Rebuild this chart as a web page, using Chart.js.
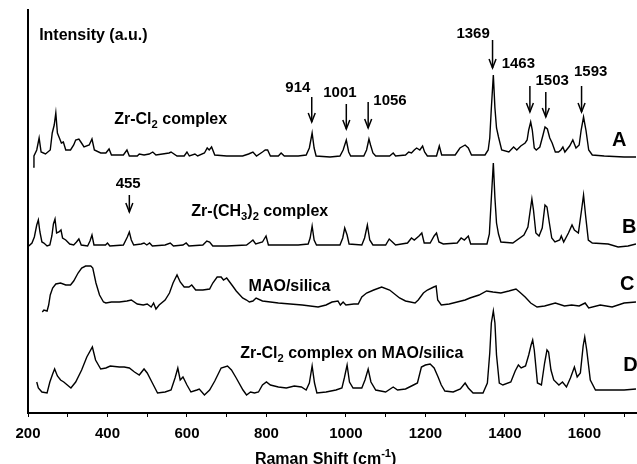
<!DOCTYPE html>
<html>
<head>
<meta charset="utf-8">
<script src="https://cdn.jsdelivr.net/npm/chart.js"></script>
<style>
  html, body { margin: 0; padding: 0; background: #fff; }
  #wrap { width: 637px; height: 464px; }
</style>
</head>
<body>
<div id="wrap"><canvas id="raman" width="637" height="464"></canvas></div>
<script>
// Raman shift (cm-1), intensity (a.u.) - traces kept at the vertical offsets of the figure
const traceA = [[213,246],[215,257],[222,263],[228,275],[233,261],[244,259],[256,263],[261,280],[266,288],[270,300],[274,280],[278,276],[284,270],[289,271],[295,263],[307,263],[315,268],[320,273],[328,274],[333,271],[341,266],[354,268],[361,274],[367,263],[383,260],[396,260],[404,264],[410,258],[440,258],[449,263],[455,257],[475,257],[480,259],[492,258],[505,259],[514,261],[522,258],[555,260],[560,261],[575,257],[593,257],[600,261],[606,257],[620,259],[627,257],[644,260],[651,265],[656,263],[662,266],[670,258],[700,257],[740,257],[755,259],[766,261],[775,257],[790,261],[797,263],[803,263],[810,257],[830,257],[837,260],[845,257],[880,257],[900,258],[908,265],[915,280],[920,265],[925,257],[960,256],[985,257],[993,263],[1001,273],[1007,261],[1012,257],[1045,257],[1052,263],[1058,274],[1062,268],[1068,260],[1075,257],[1110,257],[1119,260],[1125,257],[1150,258],[1158,261],[1165,260],[1172,263],[1178,265],[1186,263],[1193,267],[1198,261],[1205,257],[1228,257],[1235,267],[1241,258],[1275,258],[1287,265],[1300,268],[1308,265],[1316,258],[1350,258],[1358,263],[1362,275],[1366,305],[1371,338],[1375,305],[1379,285],[1384,276],[1392,263],[1410,261],[1422,266],[1430,263],[1440,267],[1451,270],[1456,273],[1460,283],[1465,291],[1469,283],[1474,265],[1479,263],[1488,266],[1496,278],[1501,286],[1507,284],[1513,275],[1519,270],[1527,261],[1535,261],[1541,263],[1546,266],[1551,261],[1563,267],[1571,273],[1579,265],[1587,268],[1592,283],[1598,296],[1604,283],[1611,263],[1620,258],[1650,257],[1700,256],[1730,256]];
const traceB = [[202,167],[210,170],[216,176],[222,188],[226,193],[230,181],[235,171],[240,170],[248,167],[255,168],[260,177],[264,189],[268,194],[272,180],[278,181],[283,183],[287,175],[295,173],[305,169],[315,168],[322,171],[328,174],[334,168],[350,167],[356,172],[361,178],[366,168],[395,168],[400,170],[406,167],[440,168],[450,176],[455,181],[460,173],[466,168],[485,169],[492,170],[499,168],[506,170],[513,167],[545,168],[558,170],[566,167],[590,168],[598,170],[605,167],[640,168],[650,172],[657,171],[665,167],[700,167],[750,168],[760,171],[766,173],[773,169],[790,171],[799,177],[805,168],[830,168],[880,168],[905,169],[910,175],[915,187],[920,173],[926,168],[985,168],[992,175],[997,185],[1003,178],[1008,169],[1040,168],[1047,175],[1054,188],[1060,173],[1068,168],[1100,168],[1109,174],[1117,171],[1125,168],[1155,170],[1165,175],[1172,173],[1184,177],[1191,180],[1197,170],[1212,170],[1222,177],[1228,180],[1234,171],[1245,169],[1280,170],[1290,175],[1298,173],[1308,177],[1314,169],[1355,169],[1361,179],[1366,215],[1371,250],[1375,215],[1379,190],[1384,179],[1390,171],[1420,170],[1448,178],[1458,186],[1464,203],[1468,214],[1472,203],[1478,180],[1486,177],[1494,185],[1501,208],[1506,206],[1512,190],[1518,175],[1526,171],[1538,173],[1542,177],[1548,171],[1560,180],[1569,188],[1575,183],[1585,180],[1593,203],[1598,218],[1603,198],[1610,173],[1620,170],[1660,169],[1685,166],[1710,167],[1730,169]];
const traceC = [[236,101],[240,103],[248,102],[252,108],[256,118],[262,125],[270,129],[282,130],[295,128],[307,128],[315,132],[326,140],[335,145],[345,147],[358,147],[363,145],[371,130],[380,118],[390,111],[396,110],[410,111],[430,111],[449,112],[460,113],[475,109],[490,108],[500,109],[510,106],[516,110],[522,104],[530,108],[545,113],[556,120],[565,130],[575,138],[583,131],[593,126],[605,126],[612,128],[622,123],[640,123],[657,124],[665,130],[676,136],[686,136],[692,133],[700,135],[715,127],[724,122],[740,115],[750,113],[757,111],[766,112],[774,115],[790,112],[810,111],[830,110],[860,109],[890,108],[930,106],[950,108],[965,111],[980,112],[986,108],[993,111],[1000,108],[1020,109],[1031,109],[1040,116],[1052,120],[1070,123],[1090,126],[1110,123],[1135,115],[1150,112],[1174,110],[1182,113],[1195,120],[1205,123],[1221,126],[1227,127],[1231,113],[1240,108],[1260,109],[1280,111],[1300,113],[1312,115],[1335,118],[1354,122],[1370,121],[1390,120],[1410,122],[1428,124],[1437,121],[1451,116],[1465,110],[1481,106],[1500,107],[1527,110],[1550,107],[1568,108],[1587,107],[1602,110],[1611,105],[1640,108],[1670,106],[1700,110],[1730,111]];
const traceD = [[222,31],[226,25],[235,21],[248,20],[255,31],[262,39],[267,44],[274,37],[282,33],[290,31],[308,25],[320,31],[335,43],[348,56],[362,66],[370,53],[383,44],[396,45],[407,47],[430,46],[442,46],[455,45],[468,41],[480,38],[492,44],[500,40],[513,30],[526,20],[545,21],[560,23],[570,35],[577,45],[583,33],[590,36],[600,28],[610,21],[625,23],[631,24],[644,18],[657,23],[670,32],[686,45],[702,47],[712,43],[724,35],[741,23],[750,18],[760,21],[770,20],[780,21],[790,28],[800,31],[810,28],[830,26],[850,25],[870,27],[888,26],[900,23],[908,30],[915,47],[921,30],[927,20],[950,21],[975,23],[990,25],[996,35],[1003,48],[1009,31],[1018,25],[1040,25],[1048,33],[1056,44],[1063,31],[1075,23],[1100,21],[1119,26],[1130,23],[1150,24],[1170,28],[1180,30],[1190,46],[1200,48],[1212,49],[1222,45],[1232,36],[1240,28],[1249,22],[1270,21],[1288,24],[1300,30],[1308,25],[1320,20],[1345,20],[1356,30],[1362,60],[1366,90],[1371,102],[1375,90],[1379,58],[1386,30],[1395,28],[1415,31],[1426,42],[1434,48],[1441,45],[1452,47],[1460,58],[1466,68],[1470,73],[1474,63],[1482,30],[1492,28],[1500,50],[1506,63],[1510,61],[1516,43],[1523,33],[1536,28],[1545,31],[1555,26],[1565,35],[1575,46],[1582,36],[1590,40],[1597,67],[1601,76],[1606,63],[1615,33],[1628,23],[1660,23],[1700,23],[1730,24]];

const seriesTags = ['A', 'B', 'C', 'D'];
const seriesNames = ['Zr-Cl_{2} complex', 'Zr-(CH_{3})_{2} complex', 'MAO/silica', 'Zr-Cl_{2} complex on MAO/silica'];

// marked bands: label, arrow top / tip intensity
const peakShifts = [914, 1001, 1056, 1369, 1463, 1503, 1593, 455];
const arrowTop = [316, 309, 311, 373, 327, 321, 327, 218];
const arrowTip = [291, 284, 285, 345, 301, 296, 301, 201];

// text placement, in [shift, intensity]
const peakLabelAt = [[879, 326], [985, 321], [1111, 313], [1320, 380], [1434, 350], [1519, 333], [1616, 342], [452, 230]];
const nameAt = [[417, 295], [611, 203], [755, 128], [734, 61]];
const tagAt = [[1688, 274], [1713, 187], [1708, 130], [1716, 49]];
const yTitleAt = [228, 379];
const xTitleAt = [949, -45];

const FONT = '"Liberation Sans", Arial, sans-serif';

function richText(ctx, text, x, yMid, size, align) {
    const parts = text.split(/(_\{[^}]*\}|\^\{[^}]*\})/).filter(Boolean).map(p => {
        if (p.startsWith('_{')) return { t: p.slice(2, -1), s: size * 0.7, dy: size * 0.28 };
        if (p.startsWith('^{')) return { t: p.slice(2, -1), s: size * 0.7, dy: -size * 0.4 };
        return { t: p, s: size, dy: 0 };
    });
    let w = 0;
    parts.forEach(p => { ctx.font = `bold ${p.s}px ${FONT}`; p.w = ctx.measureText(p.t).width; w += p.w; });
    let cx = align === 'center' ? x - w / 2 : x;
    const base = yMid + size * 0.36;
    ctx.textAlign = 'left';
    ctx.textBaseline = 'alphabetic';
    parts.forEach(p => {
        ctx.font = `bold ${p.s}px ${FONT}`;
        ctx.fillText(p.t, cx, base + p.dy);
        cx += p.w;
    });
}

const annotate = {
    id: 'annotate',
    afterDraw(chart) {
        const { ctx, scales: { x, y } } = chart;
        const px = v => x.getPixelForValue(v);
        const py = v => y.getPixelForValue(v);
        ctx.save();
        ctx.fillStyle = '#000';
        ctx.strokeStyle = '#000';

        richText(ctx, 'Intensity (a.u.)', px(yTitleAt[0]), py(yTitleAt[1]), 16, 'left');
        richText(ctx, 'Raman Shift (cm^{-1})', px(xTitleAt[0]), py(xTitleAt[1]), 16, 'center');

        seriesNames.forEach((n, i) => richText(ctx, n, px(nameAt[i][0]), py(nameAt[i][1]), 16, 'left'));
        seriesTags.forEach((t, i) => richText(ctx, t, px(tagAt[i][0]), py(tagAt[i][1]), 20, 'center'));

        ctx.lineWidth = 1.5;
        peakShifts.forEach((s, i) => {
            const ax = px(s), top = py(arrowTop[i]), tip = py(arrowTip[i]);
            ctx.beginPath();
            ctx.moveTo(ax, top);
            ctx.lineTo(ax, tip);
            ctx.stroke();
            ctx.beginPath();
            ctx.moveTo(ax - 3.5, tip - 9);
            ctx.lineTo(ax, tip);
            ctx.lineTo(ax + 3.5, tip - 9);
            ctx.stroke();
            richText(ctx, String(s), px(peakLabelAt[i][0]), py(peakLabelAt[i][1]), 15, 'center');
        });
        ctx.restore();
    }
};

const traces = [traceA, traceB, traceC, traceD];

new Chart(document.getElementById('raman').getContext('2d'), {
    type: 'line',
    data: {
        datasets: traces.map((t, i) => ({
            label: seriesTags[i],
            data: t.map(([s, v]) => ({ x: s, y: v })),
            borderColor: '#000',
            borderWidth: 1.4,
            pointRadius: 0,
            tension: 0,
            fill: false
        }))
    },
    options: {
        responsive: false,
        animation: false,
        devicePixelRatio: 1,
        layout: { padding: { left: 28, right: 1, top: 10, bottom: 0 } },
        plugins: { legend: { display: false }, tooltip: { enabled: false } },
        scales: {
            x: {
                type: 'linear',
                min: 200,
                max: 1730,
                afterFit: s => { s.height = 51; },
                border: { display: true, color: '#000', width: 2 },
                grid: { drawOnChartArea: false, drawTicks: true, tickLength: 4, color: '#000' },
                ticks: {
                    stepSize: 100,
                    includeBounds: false,
                    autoSkip: false,
                    maxRotation: 0,
                    padding: 8,
                    color: '#000',
                    font: { family: FONT, size: 15, weight: 'bold' },
                    callback: v => (v % 200 === 0 ? v : '')
                }
            },
            y: {
                min: 0,
                max: 403,
                afterFit: s => { s.width = 0; },
                border: { display: true, color: '#000', width: 2 },
                grid: { display: false, drawTicks: false },
                ticks: { display: false }
            }
        }
    },
    plugins: [annotate]
});
</script>
</body>
</html>
